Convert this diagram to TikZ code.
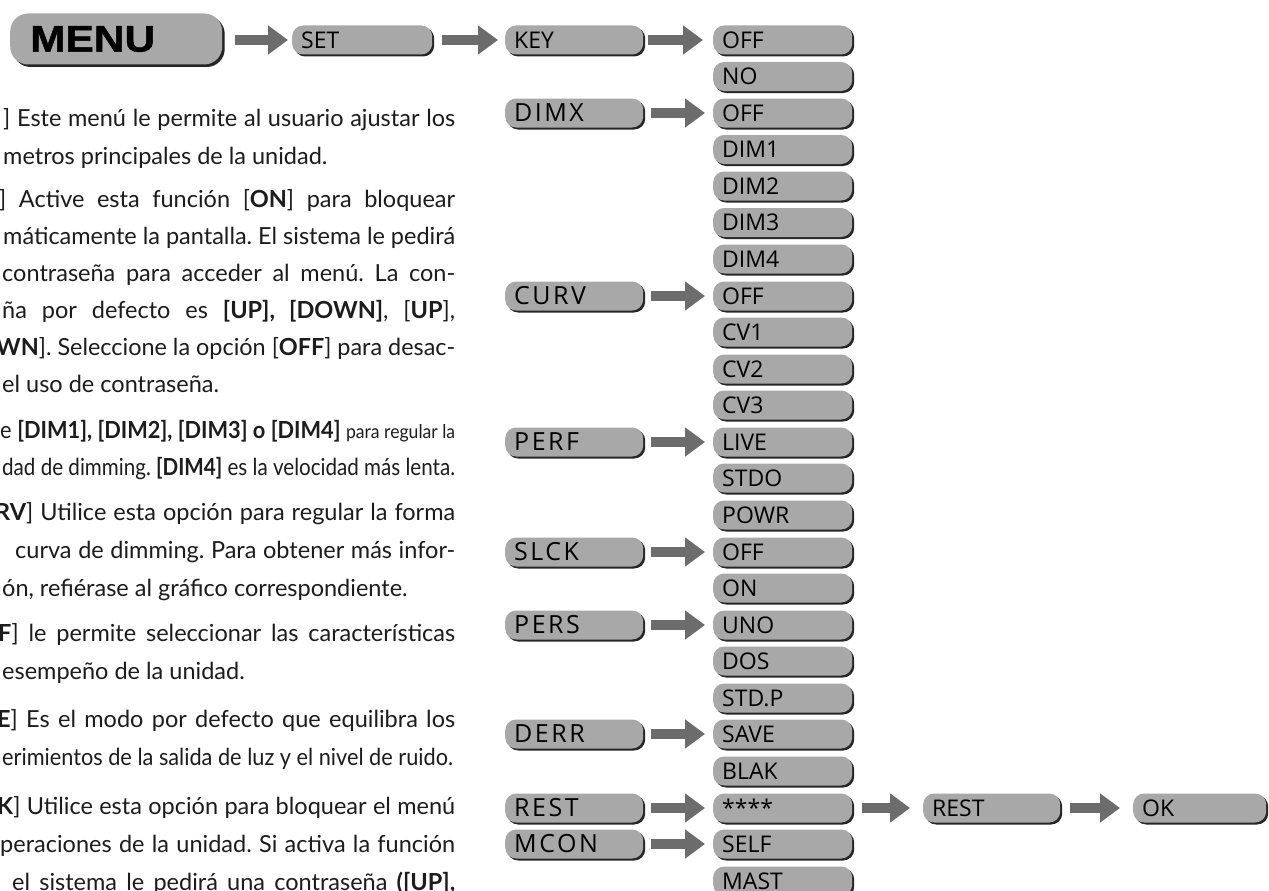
\documentclass[tikz,border=0pt]{standalone}
\usepackage{fontspec}
\usepackage{graphicx}
\setmainfont{Lato}
\newfontfamily\btnfont{Open Sans}
\newfontfamily\btnwide[LetterSpace=10]{Open Sans}
\newfontfamily\menufont[BoldFeatures={FakeBold=1.2}]{Liberation Sans}
\usetikzlibrary{arrows.meta,shadows}
\definecolor{btngray}{HTML}{A8A8A8}
\definecolor{arrowgray}{HTML}{6C6C6C}
\definecolor{shadowgray}{HTML}{262626}
\definecolor{txt}{HTML}{1C1C1C}
\frenchspacing
\newsavebox\linebox
\newcommand\fitline[2]{\sbox\linebox{#2}\ifdim\wd\linebox>#1\relax\resizebox{#1}{\height}{\usebox\linebox}\else\makebox[#1][s]{#2}\fi}
\begin{document}
\begin{tikzpicture}[x=1pt,y=-1pt,
  txtline/.style={anchor=base west,inner sep=0pt,text=txt,font=\fontsize{23.5}{24}\selectfont},
  btn/.style={shape=rectangle,rounded corners=11pt,fill=btngray,minimum height=29pt,
    text width=#1,inner xsep=9pt,inner ysep=0pt,align=left,anchor=west,text=black,
    font=\btnfont\fontsize{23}{23}\selectfont,
    drop shadow={shadow xshift=2pt,shadow yshift=-2pt,fill=shadowgray,opacity=1}},
  grp/.style={btn=120pt,font=\btnwide\fontsize{25}{25}\selectfont},
  opt/.style={btn=121pt},
  menubtn/.style={shape=rectangle,rounded corners=18pt,fill=btngray,minimum height=51pt,
    text width=172pt,inner xsep=20pt,inner ysep=0pt,align=left,anchor=west,text=black,
    drop shadow={shadow xshift=2.5pt,shadow yshift=-2.5pt,fill=shadowgray,opacity=1}},
  arr/.style={draw=arrowgray,line width=10pt,-{Triangle[width=28pt,length=20pt]},
    shorten <=8pt,shorten >=8pt}]
\useasboundingbox (0,0) rectangle (1269,891);
\clip (0,0) rectangle (1269,891);
\fill[white] (0,0) rectangle (1269,891);

% ---------------- left text ----------------
\node[txtline] (t1) at (3,126) {\fitline{452pt}{] Este menú le permite al usuario ajustar los}};
\node[txtline] (t2) at (3,164) {metros principales de la unidad.};
\node[txtline] (t3) at (-1,207) {\fitline{456pt}{] Active esta función [{\bfseries ON}] para bloquear}};
\node[txtline] (t4) at (3,244) {\fitline{452pt}{máticamente la pantalla. El sistema le pedirá}};
\node[txtline] (t5) at (2,281) {\fitline{453pt}{contraseña para acceder al menú. La con-}};
\node[txtline] (t6) at (2,318) {\fitline{453pt}{ña por defecto es {\bfseries [UP], [DOWN]}, [{\bfseries UP}],}};
\node[txtline] (t7) at (-4,355) {\fitline{459pt}{{\bfseries WN}]. Seleccione la opción [{\bfseries OFF}] para desac-}};
\node[txtline] (t8) at (2,392) {el uso de contraseña.};
\node[txtline] (t9) at (0,438) {\fitline{455pt}{e {\bfseries [DIM1], [DIM2], [DIM3] o [DIM4]} {\fontsize{19}{20}\selectfont para regular la}}};
\node[txtline] (t10) at (2,475) {\fitline{453pt}{dad de dimming. {\bfseries [DIM4]} es la velocidad más lenta.}};
\node[txtline] (t11) at (-5,520) {\fitline{460pt}{{\bfseries RV}] Utilice esta opción para regular la forma}};
\node[txtline] (t12) at (15,558) {\fitline{440pt}{curva de dimming. Para obtener más infor-}};
\node[txtline] (t13) at (2,596) {ón, refiérase al gráfico correspondiente.};
\node[txtline] (t14) at (-2,641) {\fitline{457pt}{{\bfseries F}] le permite seleccionar las características}};
\node[txtline] (t15) at (2,679) {esempeño de la unidad.};
\node[txtline] (t16) at (-3,727) {\fitline{458pt}{{\bfseries E}] Es el modo por defecto que equilibra los}};
\node[txtline] (t17) at (2,765) {\fitline{451pt}{erimientos de la salida de luz y el nivel de ruido.}};
\node[txtline] (t18) at (-3,814) {\fitline{458pt}{{\bfseries K}] Utilice esta opción para bloquear el menú}};
\node[txtline] (t19) at (0,852) {\fitline{455pt}{peraciones de la unidad. Si activa la función}};
\node[txtline] (t20) at (12,890) {\fitline{443pt}{el sistema le pedirá una contraseña {\bfseries ([UP],}}};

% ---------------- top row ----------------
\node[menubtn] (menu) at (10,39) {\resizebox{125pt}{\height}{\menufont\bfseries\fontsize{37}{37}\selectfont MENU}};
\node[btn=122pt] (set) at (292,40) {SET};
\node[btn=120pt] (key) at (505,40) {KEY};

% ---------------- group column ----------------
\node[grp] (dimx) at (505,113) {DIMX};
\node[grp] (curv) at (505,296) {CURV};
\node[grp] (perf) at (505,442) {PERF};
\node[grp] (slck) at (505,552) {SLCK};
\node[grp] (pers) at (505,625) {PERS};
\node[grp] (derr) at (505,734) {DERR};
\node[grp] (rest) at (505,808) {REST};
\node[grp] (mcon) at (505,844) {MCON};

% ---------------- option column ----------------
\node[opt] (o0) at (713,40) {OFF};
\node[opt] (o1) at (713,76.5) {NO};
\node[opt] (o2) at (713,113) {OFF};
\node[opt] (o3) at (713,149.5) {DIM1};
\node[opt] (o4) at (713,186) {DIM2};
\node[opt] (o5) at (713,222.5) {DIM3};
\node[opt] (o6) at (713,259) {DIM4};
\node[opt] (o7) at (713,296) {OFF};
\node[opt] (o8) at (713,332) {CV1};
\node[opt] (o9) at (713,369) {CV2};
\node[opt] (o10) at (713,405) {CV3};
\node[opt] (o11) at (713,442) {LIVE};
\node[opt] (o12) at (713,478) {STDO};
\node[opt] (o13) at (713,515) {POWR};
\node[opt] (o14) at (713,552) {OFF};
\node[opt] (o15) at (713,588) {ON};
\node[opt] (o16) at (713,625) {UNO};
\node[opt] (o17) at (713,661) {DOS};
\node[opt] (o18) at (713,698) {STD.P};
\node[opt] (o19) at (713,734) {SAVE};
\node[opt] (o20) at (713,771) {BLAK};
\node[opt] (o21) at (713,808) {****};
\node[opt] (o22) at (713,844) {SELF};
\node[opt] (o23) at (713,881) {MAST};

% ---------------- reset chain ----------------
\node[btn=119pt] (rest2) at (923,808) {REST};
\node[btn=115pt] (ok) at (1133,808) {OK};

% ---------------- arrows ----------------
\draw[arr,shorten <=13pt,shorten >=4pt] (menu.east |- set.west) -- (set.west);
\draw[arr,shorten <=10pt,shorten >=7pt] (set.east) -- (key.west);
\draw[arr,shorten <=5pt,shorten >=10pt] (key.east) -- (o0.west);
\draw[arr] (dimx.east) -- (o2.west);
\draw[arr] (curv.east) -- (o7.west);
\draw[arr] (perf.east) -- (o11.west);
\draw[arr] (slck.east) -- (o14.west);
\draw[arr] (pers.east) -- (o16.west);
\draw[arr] (derr.east) -- (o19.west);
\draw[arr] (rest.east) -- (o21.west);
\draw[arr] (mcon.east) -- (o22.west);
\draw[arr,shorten <=10pt,shorten >=13pt] (o21.east) -- (rest2.west);
\draw[arr,shorten <=10pt,shorten >=13pt] (rest2.east) -- (ok.west);
\end{tikzpicture}
\end{document}
